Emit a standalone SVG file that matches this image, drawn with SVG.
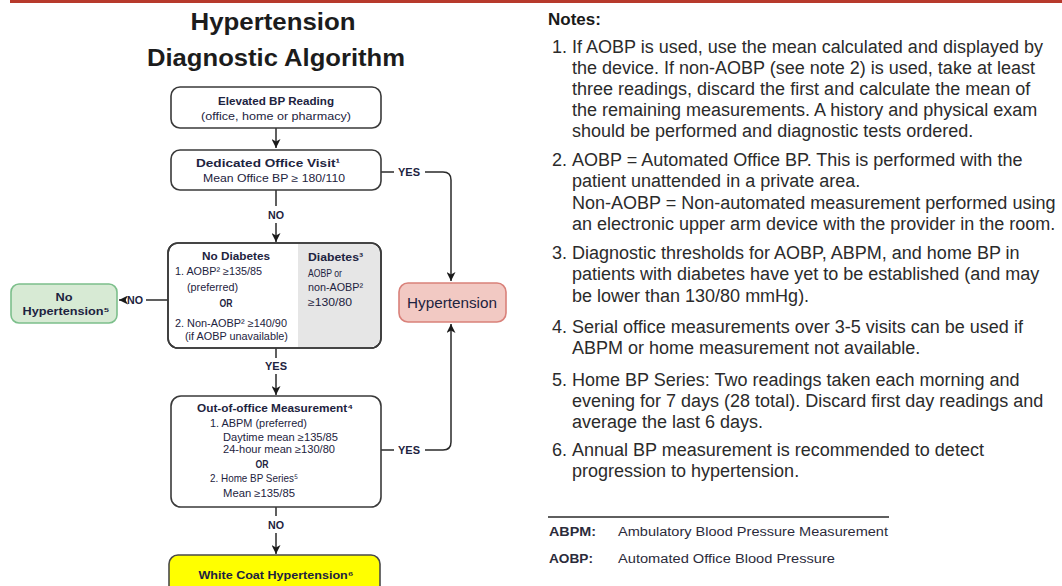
<svg xmlns="http://www.w3.org/2000/svg" width="1062" height="586" viewBox="0 0 1062 586">
<style>
.title{font-family:"Liberation Sans",Arial,sans-serif;font-weight:bold;font-size:24px;fill:#1c1c1c;text-anchor:middle}
.box{fill:#fff;stroke:#3a3a3a;stroke-width:1.6}
.ft{font-family:"Liberation Sans",Arial,sans-serif;font-size:10.5px;fill:#1d2340}
.fb{font-family:"Liberation Sans",Arial,sans-serif;font-size:10.5px;font-weight:bold;fill:#1d2340}
.lbl{font-family:"Liberation Sans",Arial,sans-serif;font-size:11px;font-weight:bold;fill:#1d2340;text-anchor:middle}
.c{text-anchor:middle}
.conn{fill:none;stroke:#2a2a2a;stroke-width:1.5}
.note{font-family:"Liberation Sans",Arial,sans-serif;font-size:18px;fill:#2b2b2b}
.ab{font-family:"Liberation Sans",Arial,sans-serif;font-size:12.5px;fill:#2b2b3b}
</style>
<defs>
<marker id="arr" markerUnits="userSpaceOnUse" markerWidth="10" markerHeight="9" refX="9" refY="4.5" orient="auto">
<path d="M0,0 L9,4.5 L0,9 L2.5,4.5 z" fill="#1a1a1a"/>
</marker>
</defs>
<rect x="10" y="0" width="1052" height="3" fill="#b73a2c"/>
<text class="title" x="273" y="30" textLength="165" lengthAdjust="spacingAndGlyphs">Hypertension</text>
<text class="title" x="276" y="66" textLength="258" lengthAdjust="spacingAndGlyphs">Diagnostic Algorithm</text>

<g id="connectors">
<path class="conn" d="M276,128 V148" marker-end="url(#arr)"/>
<path class="conn" d="M381,172 H394"/>
<text class="lbl" x="409" y="176" textLength="22" lengthAdjust="spacingAndGlyphs">YES</text>
<path class="conn" d="M425,172 H443 Q451,172 451,180 V281" marker-end="url(#arr)"/>
<path class="conn" d="M276,190 V206"/>
<text class="lbl" x="276" y="219" textLength="16" lengthAdjust="spacingAndGlyphs">NO</text>
<path class="conn" d="M276,223 V242" marker-end="url(#arr)"/>
<path class="conn" d="M168,300 H146"/>
<text class="lbl" x="135" y="304" textLength="16" lengthAdjust="spacingAndGlyphs">NO</text>
<path class="conn" d="M126,300 H119" marker-end="url(#arr)"/>
<path class="conn" d="M276,348 V358"/>
<text class="lbl" x="276" y="370" textLength="22" lengthAdjust="spacingAndGlyphs">YES</text>
<path class="conn" d="M276,374 V395" marker-end="url(#arr)"/>
<path class="conn" d="M381,450 H394"/>
<text class="lbl" x="409" y="454" textLength="22" lengthAdjust="spacingAndGlyphs">YES</text>
<path class="conn" d="M425,450 H443 Q451,450 451,442 V324" marker-end="url(#arr)"/>
<path class="conn" d="M276,507 V516"/>
<text class="lbl" x="276" y="529" textLength="16" lengthAdjust="spacingAndGlyphs">NO</text>
<path class="conn" d="M276,533 V554" marker-end="url(#arr)"/>
</g>

<g id="elevated">
<rect class="box" x="171" y="87" width="210" height="41" rx="9"/>
<text class="fb c" x="276" y="105" textLength="116" lengthAdjust="spacingAndGlyphs">Elevated BP Reading</text>
<text class="ft c" x="276" y="120" textLength="150" lengthAdjust="spacingAndGlyphs">(office, home or pharmacy)</text>
</g>

<g id="office-visit">
<rect class="box" x="171" y="150" width="210" height="40" rx="9"/>
<text class="fb c" x="268" y="167" textLength="144" lengthAdjust="spacingAndGlyphs">Dedicated Office Visit¹</text>
<text class="ft c" x="274" y="182" textLength="142" lengthAdjust="spacingAndGlyphs">Mean Office BP  ≥ 180/110</text>
</g>

<g id="diabetes-check">
<rect class="box" x="168" y="243" width="213" height="105" rx="10"/>
<path d="M298,244 H371 A9,9 0 0 1 380,253 V338 A9,9 0 0 1 371,347 H298 Z" fill="#e6e6e6"/>
<rect x="168" y="243" width="213" height="105" rx="10" fill="none" stroke="#3a3a3a" stroke-width="1.6"/>
<text class="fb c" x="236" y="260" textLength="68" lengthAdjust="spacingAndGlyphs">No Diabetes</text>
<text class="ft" x="175" y="275" textLength="87" lengthAdjust="spacingAndGlyphs">1. AOBP² ≥135/85</text>
<text class="ft" x="187" y="291" textLength="51" lengthAdjust="spacingAndGlyphs">(preferred)</text>
<text class="fb c" x="226" y="307" textLength="13" lengthAdjust="spacingAndGlyphs">OR</text>
<text class="ft" x="175" y="327" textLength="112" lengthAdjust="spacingAndGlyphs">2. Non-AOBP² ≥140/90</text>
<text class="ft" x="185" y="340" textLength="103" lengthAdjust="spacingAndGlyphs">(if AOBP unavailable)</text>
<text class="fb" x="308" y="261" textLength="55" lengthAdjust="spacingAndGlyphs">Diabetes³</text>
<text class="ft" x="308" y="277" textLength="34" lengthAdjust="spacingAndGlyphs">AOBP or</text>
<text class="ft" x="308" y="291" textLength="55" lengthAdjust="spacingAndGlyphs">non-AOBP²</text>
<text class="ft" x="308" y="306" textLength="44" lengthAdjust="spacingAndGlyphs">≥130/80</text>
</g>

<g id="no-hypertension">
<rect x="11" y="284" width="106" height="39" rx="8" fill="#d7ead4" stroke="#7cbf8b" stroke-width="1.6"/>
<text class="fb c" x="64" y="301" textLength="17" lengthAdjust="spacingAndGlyphs">No</text>
<text class="fb c" x="66" y="315" textLength="87" lengthAdjust="spacingAndGlyphs">Hypertension⁵</text>
</g>

<g id="hypertension">
<rect x="399" y="283" width="107" height="39" rx="9" fill="#f2c9c3" stroke="#d9817a" stroke-width="1.6"/>
<text x="452" y="308" text-anchor="middle" font-family="Liberation Sans, Arial, sans-serif" font-size="15" fill="#1d2340" textLength="90" lengthAdjust="spacingAndGlyphs">Hypertension</text>
</g>

<g id="out-of-office">
<rect class="box" x="171" y="396" width="210" height="111" rx="10"/>
<text class="fb" x="197" y="412" textLength="156" lengthAdjust="spacingAndGlyphs">Out-of-office Measurement⁴</text>
<text class="ft" x="210" y="427" textLength="97" lengthAdjust="spacingAndGlyphs">1. ABPM (preferred)</text>
<text class="ft" x="223" y="441" textLength="115" lengthAdjust="spacingAndGlyphs">Daytime mean ≥135/85</text>
<text class="ft" x="223" y="453" textLength="112" lengthAdjust="spacingAndGlyphs">24-hour mean ≥130/80</text>
<text class="fb c" x="262" y="468" textLength="13" lengthAdjust="spacingAndGlyphs">OR</text>
<text class="ft" x="210" y="482" textLength="88" lengthAdjust="spacingAndGlyphs">2. Home BP Series⁵</text>
<text class="ft" x="223" y="497" textLength="72" lengthAdjust="spacingAndGlyphs">Mean ≥135/85</text>
</g>

<g id="white-coat">
<rect x="169" y="555" width="211" height="40" rx="9" fill="#ffff00" stroke="#4a4a4a" stroke-width="1.6"/>
<text class="fb c" x="276" y="579" textLength="155" lengthAdjust="spacingAndGlyphs">White Coat Hypertension⁶</text>
</g>

<g id="notes">
<text x="548" y="25" font-family="Liberation Sans, Arial, sans-serif" font-weight="bold" font-size="17" fill="#1a1a1a">Notes:</text>
<g class="note">
<text x="552" y="53">1.</text>
<text x="572" y="53">If AOBP is used, use the mean calculated and displayed by</text>
<text x="572" y="74">the device. If non-AOBP (see note 2) is used, take at least</text>
<text x="572" y="95">three readings, discard the first and calculate the mean of</text>
<text x="572" y="116">the remaining measurements. A history and physical exam</text>
<text x="572" y="137">should be performed and diagnostic tests ordered.</text>
<text x="552" y="166">2.</text>
<text x="572" y="166">AOBP = Automated Office BP. This is performed with the</text>
<text x="572" y="187">patient unattended in a private area.</text>
<text x="572" y="209">Non-AOBP = Non-automated measurement performed using</text>
<text x="572" y="230">an electronic upper arm device with the provider in the room.</text>
<text x="552" y="259">3.</text>
<text x="572" y="259">Diagnostic thresholds for AOBP, ABPM, and home BP in</text>
<text x="572" y="280">patients with diabetes have yet to be established (and may</text>
<text x="572" y="302">be lower than 130/80 mmHg).</text>
<text x="552" y="333">4.</text>
<text x="572" y="333">Serial office measurements over 3-5 visits can be used if</text>
<text x="572" y="354">ABPM or home measurement not available.</text>
<text x="552" y="386">5.</text>
<text x="572" y="386">Home BP Series: Two readings taken each morning and</text>
<text x="572" y="407">evening for 7 days (28 total). Discard first day readings  and</text>
<text x="572" y="428">average the last 6 days.</text>
<text x="552" y="456">6.</text>
<text x="572" y="456">Annual BP measurement is recommended to detect</text>
<text x="572" y="477">progression to hypertension.</text>
</g>
</g>

<g id="abbreviations">
<line x1="548" y1="517" x2="889" y2="517" stroke="#2a2a2a" stroke-width="1.6"/>
<text class="ab" x="549" y="536" font-weight="bold" textLength="47" lengthAdjust="spacingAndGlyphs">ABPM:</text>
<text class="ab" x="618" y="536" textLength="270" lengthAdjust="spacingAndGlyphs">Ambulatory Blood Pressure Measurement</text>
<text class="ab" x="549" y="563" font-weight="bold" textLength="44" lengthAdjust="spacingAndGlyphs">AOBP:</text>
<text class="ab" x="618" y="563" textLength="217" lengthAdjust="spacingAndGlyphs">Automated Office Blood Pressure</text>
</g>
</svg>
